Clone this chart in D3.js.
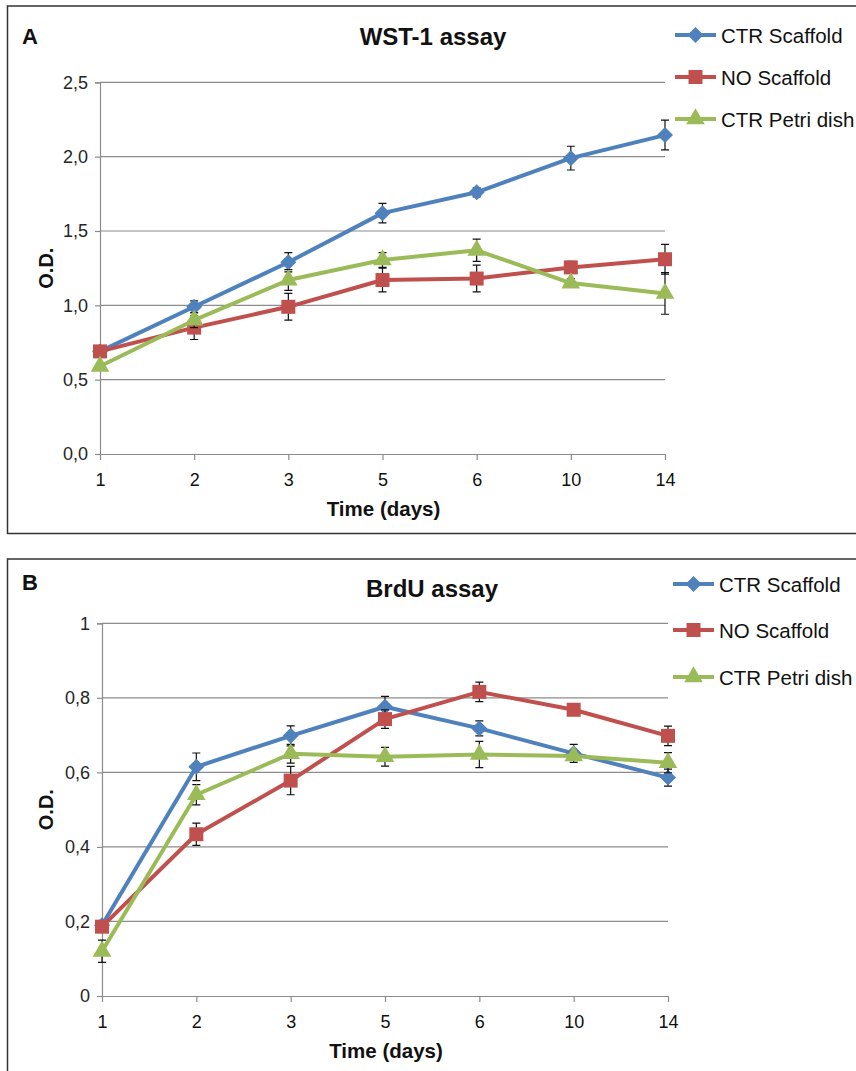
<!DOCTYPE html>
<html>
<head>
<meta charset="utf-8">
<script src="https://cdn.jsdelivr.net/npm/d3@7"></script>
<style>
  body { margin: 0; background: #fff; }
  text { font-family: 'Liberation Sans', Arial, sans-serif; }
</style>
</head>
<body>
<div class="canvas"></div>
<script>
// categories (days) and series
const days = ['1', '2', '3', '5', '6', '10', '14'];
const seriesNames = ['CTR Scaffold', 'NO Scaffold', 'CTR Petri dish'];
const colours = ['#4F81BD', '#C0504D', '#9BBB59'];

// WST-1 assay
const wstScaffold = [0.69, 0.99, 1.29, 1.62, 1.76, 1.99, 2.145];
const wstScaffoldErr = [0.02, 0.04, 0.065, 0.065, 0.03, 0.08, 0.10];
const wstNoScaffold = [0.69, 0.85, 0.99, 1.17, 1.18, 1.255, 1.31];
const wstNoScaffoldErr = [0.02, 0.08, 0.09, 0.08, 0.09, 0.04, 0.10];
const wstPetri = [0.59, 0.90, 1.17, 1.305, 1.37, 1.15, 1.08];
const wstPetriErr = [0.02, 0.05, 0.07, 0.05, 0.075, 0.03, 0.14];
const wstTicks = [0, 0.5, 1, 1.5, 2, 2.5];

// BrdU assay
const brdScaffold = [0.19, 0.615, 0.698, 0.776, 0.718, 0.651, 0.586];
const brdScaffoldErr = [0.01, 0.037, 0.027, 0.028, 0.02, 0.024, 0.023];
const brdNoScaffold = [0.186, 0.434, 0.578, 0.743, 0.816, 0.768, 0.698];
const brdNoScaffoldErr = [0.01, 0.03, 0.038, 0.025, 0.026, 0.008, 0.026];
const brdPetri = [0.12, 0.54, 0.65, 0.642, 0.648, 0.644, 0.626];
const brdPetriErr = [0.03, 0.027, 0.025, 0.025, 0.035, 0.01, 0.027];
const brdTicks = [0, 0.2, 0.4, 0.6, 0.8, 1];

const svg = d3.select('.canvas')
    .append('svg')
        .attr('width', 856)
        .attr('height', 1071);

const panels = [
    {
        letter: 'A', title: 'WST-1 assay',
        box: {x: 7.5, y: 6, w: 860, h: 527.5},
        plot: {left: 100, right: 665, top: 82.3, bottom: 454},
        yMax: 2.5, ticks: wstTicks, fmt: d => d.toFixed(1).replace('.', ','),
        values: [wstScaffold, wstNoScaffold, wstPetri],
        errors: [wstScaffoldErr, wstNoScaffoldErr, wstPetriErr],
        letterY: 43.5, titleY: 45, titleX: 433,
        legendX: 675, legendY: [35, 77, 119]
    },
    {
        letter: 'B', title: 'BrdU assay',
        box: {x: 7.5, y: 559, w: 860, h: 530},
        plot: {left: 102, right: 668, top: 623.3, bottom: 996},
        yMax: 1, ticks: brdTicks, fmt: d => (d === 0 || d === 1) ? String(d) : d.toFixed(1).replace('.', ','),
        values: [brdScaffold, brdNoScaffold, brdPetri],
        errors: [brdScaffoldErr, brdNoScaffoldErr, brdPetriErr],
        letterY: 590, titleY: 596.5, titleX: 432,
        legendX: 673, legendY: [584, 630, 677]
    }
];

const markerPath = i => {
    if (i === 0) return d3.symbol().type(d3.symbolSquare).size(128)();
    if (i === 1) return d3.symbol().type(d3.symbolSquare).size(196)();
    return d3.symbol().type(d3.symbolTriangle).size(150)();
};
const markerRotate = i => i === 0 ? 45 : 0;

panels.forEach(p => {
    const g = svg.append('g');

    // frame
    g.append('rect')
        .attr('x', p.box.x)
        .attr('y', p.box.y)
        .attr('width', p.box.w)
        .attr('height', p.box.h)
        .attr('fill', 'none')
        .attr('stroke', '#333')
        .attr('stroke-width', 1.5);

    const x = d3.scalePoint()
        .domain(days)
        .range([p.plot.left, p.plot.right]);

    const y = d3.scaleLinear()
        .domain([0, p.yMax])
        .range([p.plot.bottom, p.plot.top]);

    // gridlines
    g.selectAll('line.grid')
        .data(p.ticks.filter(t => t > 0))
        .enter()
        .append('line')
        .attr('class', 'grid')
        .attr('x1', p.plot.left)
        .attr('x2', p.plot.right)
        .attr('y1', d => y(d))
        .attr('y2', d => y(d))
        .attr('stroke', '#8c8c8c')
        .attr('stroke-width', 1.2);

    // y axis
    const yAxis = d3.axisLeft(y)
        .tickValues(p.ticks)
        .tickFormat(p.fmt)
        .tickSize(5)
        .tickPadding(7);

    const yg = g.append('g')
        .attr('transform', `translate(${p.plot.left}, 0)`)
        .call(yAxis);
    yg.select('.domain').attr('stroke', '#8c8c8c').attr('stroke-width', 1.2);
    yg.selectAll('.tick line').attr('stroke', '#8c8c8c').attr('stroke-width', 1.2);
    yg.selectAll('.tick text')
        .attr('font-size', 18)
        .attr('fill', '#262626')
        .attr('font-family', "'Liberation Sans', Arial, sans-serif");

    // x axis
    const xAxis = d3.axisBottom(x)
        .tickSize(6)
        .tickSizeOuter(0)
        .tickPadding(13);

    const xg = g.append('g')
        .attr('transform', `translate(0, ${p.plot.bottom})`)
        .call(xAxis);
    xg.select('.domain').attr('stroke', '#8c8c8c').attr('stroke-width', 1.2);
    xg.selectAll('.tick line').attr('stroke', '#8c8c8c').attr('stroke-width', 1.2);
    xg.selectAll('.tick text')
        .attr('font-size', 18)
        .attr('fill', '#111')
        .attr('font-family', "'Liberation Sans', Arial, sans-serif");

    // axis titles
    g.append('text')
        .attr('x', (p.plot.left + p.plot.right) / 2 + 1)
        .attr('y', p.plot.bottom + 61.5)
        .attr('text-anchor', 'middle')
        .attr('font-size', 20.5)
        .attr('font-weight', 'bold')
        .attr('fill', '#111')
        .text('Time (days)');

    const midY = (p.plot.top + p.plot.bottom) / 2;
    g.append('text')
        .attr('transform', `translate(53, ${midY}) rotate(-90)`)
        .attr('text-anchor', 'middle')
        .attr('font-size', 20)
        .attr('font-weight', 'bold')
        .attr('fill', '#111')
        .text('O.D.');

    // panel letter and title
    g.append('text')
        .attr('x', 22)
        .attr('y', p.letterY)
        .attr('font-size', 22)
        .attr('font-weight', 'bold')
        .attr('fill', '#111')
        .text(p.letter);

    g.append('text')
        .attr('x', p.titleX)
        .attr('y', p.titleY)
        .attr('text-anchor', 'middle')
        .attr('font-size', 24)
        .attr('font-weight', 'bold')
        .attr('fill', '#111')
        .text(p.title);

    // series
    const line = d3.line()
        .x((d, i) => x(days[i]))
        .y(d => y(d));

    p.values.forEach((vals, s) => {
        const sg = g.append('g').attr('class', 'series');

        sg.append('path')
            .attr('d', line(vals))
            .attr('fill', 'none')
            .attr('stroke', colours[s])
            .attr('stroke-width', 4)
            .attr('stroke-linejoin', 'round');

        const errData = vals.map((v, i) => ({x: x(days[i]), lo: y(v - p.errors[s][i]), hi: y(v + p.errors[s][i])}));

        sg.selectAll('path.err')
            .data(errData)
            .enter()
            .append('path')
            .attr('class', 'err')
            .attr('d', d => `M${d.x},${d.lo}V${d.hi}M${d.x - 4},${d.lo}H${d.x + 4}M${d.x - 4},${d.hi}H${d.x + 4}`)
            .attr('fill', 'none')
            .attr('stroke', '#111')
            .attr('stroke-width', 1.2);

        sg.selectAll('path.marker')
            .data(vals)
            .enter()
            .append('path')
            .attr('class', 'marker')
            .attr('d', markerPath(s))
            .attr('transform', (d, i) => `translate(${x(days[i])}, ${y(d)}) rotate(${markerRotate(s)})`)
            .attr('fill', colours[s]);
    });

    // legend
    const legend = g.selectAll('g.legend')
        .data(seriesNames)
        .enter()
        .append('g')
        .attr('class', 'legend')
        .attr('transform', (d, i) => `translate(${p.legendX}, ${p.legendY[i]})`);

    legend.append('line')
        .attr('x1', 0)
        .attr('x2', 41)
        .attr('y1', 0)
        .attr('y2', 0)
        .attr('stroke', (d, i) => colours[i])
        .attr('stroke-width', 4);

    legend.append('path')
        .attr('d', (d, i) => markerPath(i))
        .attr('transform', (d, i) => `translate(20.5, 0) rotate(${markerRotate(i)})`)
        .attr('fill', (d, i) => colours[i]);

    legend.append('text')
        .attr('x', 46)
        .attr('y', 7.5)
        .attr('font-size', 20.5)
        .attr('fill', '#111')
        .text(d => d);
});
</script>
</body>
</html>
